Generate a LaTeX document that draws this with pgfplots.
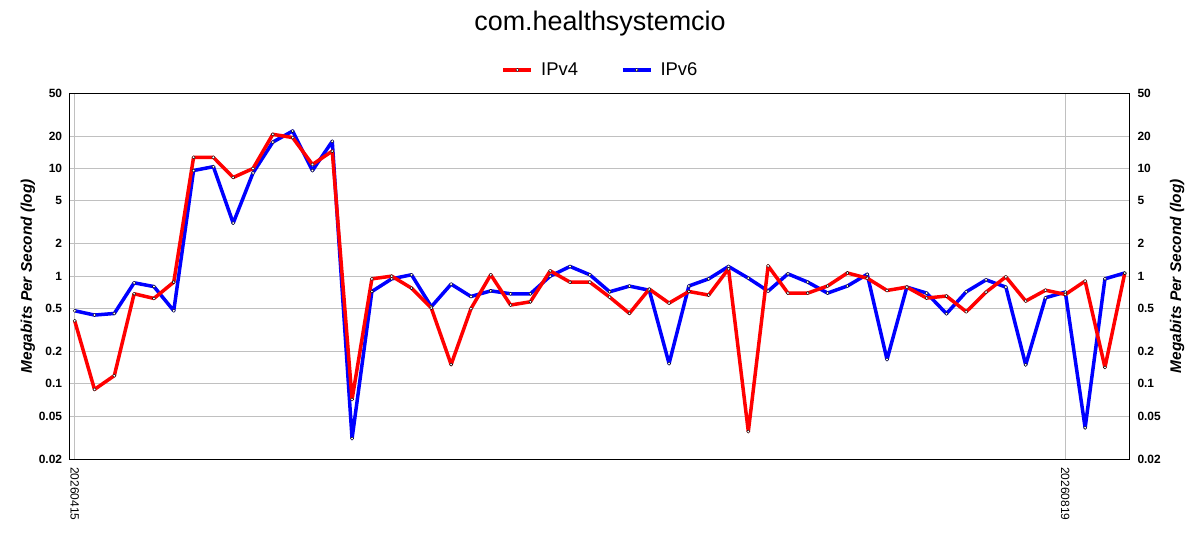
\documentclass[border=0pt]{standalone}
\usepackage{fontspec}
\setmainfont{Liberation Sans}
\usepackage{pgfplots}
\usepackage{pgfplotstable}
\pgfplotsset{compat=1.18}

\definecolor{gridgray}{RGB}{192,192,192}

% index, IPv4, IPv6 (Mbps)
\pgfplotstableread{
i   v4      v6
0   0.385   0.477
1   0.0886  0.435
2   0.119   0.45
3   0.686   0.867
4   0.621   0.80
5   0.88    0.477
6   12.7    9.58
7   12.7    10.4
8   8.26    3.11
9   10.0    9.1
10  20.8    17.6
11  19.4    22.3
12  10.9    9.58
13  14.5    17.9
14  0.0716  0.031
15  0.944   0.72
16  1.0     0.944
17  0.774   1.03
18  0.505   0.52
19  0.151   0.843
20  0.498   0.647
21  1.03    0.73
22  0.539   0.686
23  0.578   0.686
24  1.12    1.0
25  0.88    1.23
26  0.88    1.03
27  0.639   0.716
28  0.451   0.808
29  0.758   0.74
30  0.562   0.154
31  0.72    0.81
32  0.667   0.944
33  1.17    1.23
34  0.036   0.958
35  1.245   0.726
36  0.696   1.05
37  0.696   0.88
38  0.81    0.696
39  1.07    0.81
40  0.958   1.04
41  0.736   0.168
42  0.791   0.791
43  0.626   0.696
44  0.653   0.448
45  0.467   0.716
46  0.711   0.924
47  0.985   0.791
48  0.587   0.15
49  0.74    0.63
50  0.676   0.711
51  0.899   0.039
52  0.142   0.944
53  1.066   1.07
}\traffic

\tikzset{
  v4line/.style={red, line width=3.5bp, line join=round, mark=*, mark size=1.6bp,
    mark options={fill=white, draw=black, line width=0.4bp}},
  v6line/.style={blue, line width=3.5bp, line join=round, mark=*, mark size=1.6bp,
    mark options={fill=white, draw=black, line width=0.4bp}},
}

\begin{document}
\begin{tikzpicture}
  \begin{axis}[
    scale only axis,
    width=1059.6bp, height=365.7bp,
    at={(69.7bp,91bp)}, anchor=south west,
    ymode=log, ymin=0.02, ymax=50,
    xmin=-0.252, xmax=53.23,
    ytick={0.02,0.05,0.1,0.2,0.5,1,2,5,10,20,50},
    yticklabels={0.02,0.05,0.1,0.2,0.5,1,2,5,10,20,50},
    major tick length=0pt, minor tick length=0pt,
    axis line style={line width=1bp, black},
    yticklabel style={font=\fontsize{12}{14}\selectfont\bfseries,
      inner sep=0pt, xshift=-7.4bp},
    xtick={0,50},
    xticklabels={20260415,20260819},
    xticklabel style={rotate=-90, anchor=west, inner xsep=8bp, inner ysep=0pt,
      font=\fontsize{12}{14}\selectfont},
    grid=major,
    grid style={gridgray, line width=0.9bp},
    ylabel={Megabits Per Second (log)},
    ylabel style={at={(axis description cs:-0.0394,0.5)}, anchor=center,
      font=\fontsize{15.5}{18}\selectfont\bfseries\itshape},
    legend columns=2,
    legend style={
      at={(0.5,1)}, anchor=south, yshift=16bp,
      draw=none, fill=none, inner sep=0pt,
      font=\fontsize{18.5}{22}\selectfont,
      nodes={inner sep=0pt},
      /tikz/every odd column/.append style={column sep=8bp},
      /tikz/every even column/.append style={column sep=43bp},
    },
    legend image code/.code={
      \draw[#1, mark repeat=2, mark phase=2]
        plot coordinates {(0bp,0bp) (14bp,0bp) (28bp,0bp)};
    },
  ]
    \addlegendimage{v4line}
    \addlegendentry{IPv4}
    \addlegendimage{v6line}
    \addlegendentry{IPv6}
    \addplot[v6line, forget plot] table[x=i, y=v6] {\traffic};
    \addplot[v4line, forget plot] table[x=i, y=v4] {\traffic};
  \end{axis}
  \begin{axis}[
    scale only axis,
    width=1059.6bp, height=365.7bp,
    at={(69.7bp,91bp)}, anchor=south west,
    ymode=log, ymin=0.02, ymax=50,
    xmin=-0.252, xmax=53.23,
    axis y line*=right,
    hide x axis,
    ytick={0.02,0.05,0.1,0.2,0.5,1,2,5,10,20,50},
    yticklabels={0.02,0.05,0.1,0.2,0.5,1,2,5,10,20,50},
    major tick length=0pt, minor tick length=0pt,
    axis line style={line width=1bp, black},
    yticklabel style={font=\fontsize{12}{14}\selectfont\bfseries,
      inner sep=0pt, anchor=west, xshift=8bp},
    ylabel={Megabits Per Second (log)},
    ylabel style={at={(axis description cs:1.045,0.5)}, anchor=center,
      rotate=0,
      font=\fontsize{15.5}{18}\selectfont\bfseries\itshape},
  ]
    \addplot[draw=none, forget plot] table[x=i, y=v4] {\traffic};
  \end{axis}
  \node[anchor=base, font=\fontsize{27}{32}\selectfont] at (600bp,519.3bp)
    {com.healthsystemcio};
  \pgfresetboundingbox
  \path (0,0) rectangle (1200bp,550bp);
\end{tikzpicture}
\end{document}
